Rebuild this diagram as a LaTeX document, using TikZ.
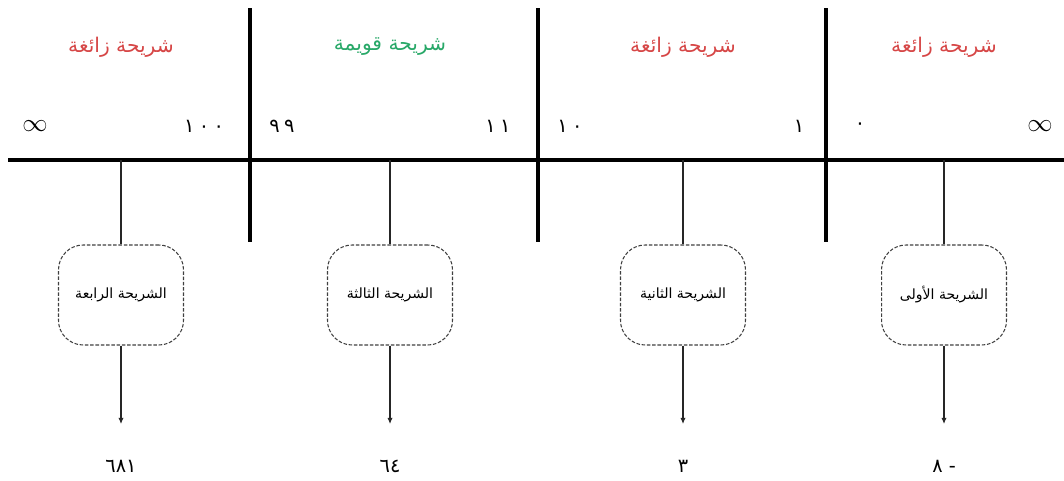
\documentclass[tikz,border=0pt]{standalone}
\usepackage{fontspec}
\newfontfamily\arabicfont[Script=Arabic]{DejaVu Sans}
\TeXXeTstate=1
\usetikzlibrary{arrows.meta}
\definecolor{badred}{RGB}{214,70,70}
\definecolor{goodgreen}{RGB}{40,168,104}
\newcommand{\dg}{\hspace{2.5pt}}
\begin{document}
\begin{tikzpicture}[x=0.02cm,y=-0.02cm,
  axisline/.style={line width=2.8pt,black},
  thinline/.style={line width=0.6pt,black!85},
  slicebox/.style={draw=black!75,dash pattern=on 2pt off 1pt,rounded corners=14pt,
    minimum width=2.5cm,minimum height=2cm,line width=0.6pt,fill=white,
    font=\arabicfont\fontsize{8}{10}\selectfont},
  head/.style={font=\arabicfont\fontsize{11.5}{13}\selectfont},
  num/.style={font=\arabicfont\fontsize{11}{13}\selectfont},
  res/.style={font=\arabicfont\fontsize{11}{13}\selectfont},
  tip/.style={-{Latex[length=3.5pt,width=3pt]}}
]
\useasboundingbox (0,0) rectangle (1064,480);
% axis
\coordinate (axL) at (8,160);
\coordinate (axR) at (1064,160);
\draw[axisline] (axL) -- (axR);
\foreach \i/\x in {1/250,2/538,3/826}{
  \coordinate (v\i t) at (\x,8);
  \coordinate (v\i b) at (\x,242);
  \draw[axisline] (v\i t) -- (v\i b);
}
% headings
\node[head,text=badred] (h1) at (121,47) {\beginR شريحة زائغة\endR};
\node[head,text=goodgreen] (h2) at (390,47) {\beginR شريحة قويمة\endR};
\node[head,text=badred] (h3) at (683,47) {\beginR شريحة زائغة\endR};
\node[head,text=badred] (h4) at (944,47) {\beginR شريحة زائغة\endR};
% bound numbers
\node[font=\Large] (n1) at (35,126) {$\infty$};
\node[num] (n2) at (204,126) {١\dg٠\dg٠};
\node[num] (n3) at (282,126) {٩\dg٩};
\node[num] (n4) at (498,126) {١\dg١};
\node[num] (n5) at (570,126) {١\dg٠};
\node[num] (n6) at (799,126) {١};
\node[num] (n7) at (860,126) {٠};
\node[font=\Large] (n8) at (1040,126) {$\infty$};
% boxes
\node[slicebox] (b1) at (121,295) {\beginR الشريحة الرابعة\endR};
\node[slicebox] (b2) at (390,295) {\beginR الشريحة الثالثة\endR};
\node[slicebox] (b3) at (683,295) {\beginR الشريحة الثانية\endR};
\node[slicebox] (b4) at (944,295) {\beginR الشريحة الأولى\endR};
% connectors
\foreach \i/\x in {1/121,2/390,3/683,4/944}{
  \coordinate (t\i) at (\x,160);
  \coordinate (e\i) at (\x,424);
  \draw[thinline] (t\i) -- (b\i.north);
  \draw[thinline,tip] (b\i.south) -- (e\i);
}
% results
\node[res] (r1) at (121,466) {٦٨١};
\node[res] (r2) at (390,466) {٦٤};
\node[res] (r3) at (683,466) {٣};
\node[res] (r4) at (944,466) {\beginR - ٨\endR};
\end{tikzpicture}
\end{document}
